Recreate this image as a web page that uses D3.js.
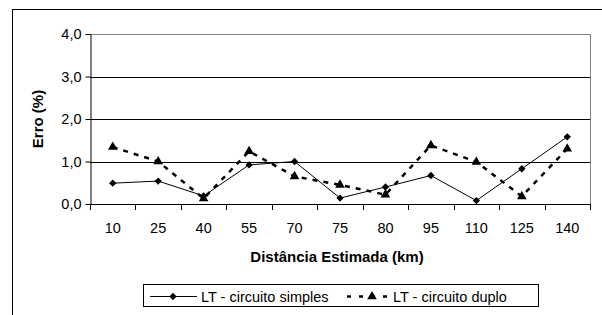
<!DOCTYPE html>
<html>
<head>
<meta charset="utf-8">
<script src="https://cdn.jsdelivr.net/npm/d3@7"></script>
<style>
  body { margin: 0; background: #fff; }
  svg { display: block; font-family: "Liberation Sans", Arial, sans-serif; }
</style>
</head>
<body>
<div id="chart"></div>
<script>
// dados
const distancias = ["10", "25", "40", "55", "70", "75", "80", "95", "110", "125", "140"];
const simples = [0.49, 0.54, 0.19, 0.92, 1.0, 0.14, 0.40, 0.67, 0.08, 0.83, 1.58];
const duplo = [1.34, 1.0, 0.13, 1.24, 0.65, 0.45, 0.22, 1.38, 0.99, 0.18, 1.30];
const yTicks = [0, 1, 2, 3, 4];

const W = 602, H = 315;
const plot = { left: 90, right: 590, top: 34, bottom: 204 };

const svg = d3.select("#chart").append("svg")
    .attr("width", W)
    .attr("height", H);

// moldura externa
svg.append("rect")
    .attr("x", 12.5).attr("y", 9.5)
    .attr("width", 620).attr("height", 330)
    .attr("fill", "none").attr("stroke", "#000");

const x = d3.scaleBand().domain(distancias).range([plot.left, plot.right]);
const y = d3.scaleLinear().domain([0, 4]).range([plot.bottom, plot.top]);

// linhas de grade
svg.append("g").selectAll("line")
    .data(yTicks.filter(t => t > 0 && t < 4))
    .enter().append("line")
    .attr("x1", plot.left).attr("x2", plot.right)
    .attr("y1", d => Math.round(y(d)) + 0.5)
    .attr("y2", d => Math.round(y(d)) + 0.5)
    .attr("stroke", "#000");

// borda superior e direita (cinza)
svg.append("path")
    .attr("d", `M${plot.left},${plot.top + 0.5}H${plot.right + 0.5}V${plot.bottom}`)
    .attr("fill", "none").attr("stroke", "#808080");

// eixo Y
const yAxis = d3.axisLeft(y).tickValues(yTicks).tickSize(5).tickSizeOuter(0)
    .tickFormat(d => d3.format(".1f")(d).replace(".", ","));
const gy = svg.append("g").attr("transform", `translate(${plot.left + 0.5},0)`).call(yAxis);
gy.selectAll("text").attr("font-size", 14.5).attr("fill", "#000").attr("x", -9)
    .style("font-family", "Liberation Sans, Arial, sans-serif");
gy.selectAll("line, path").attr("stroke", "#000");

// eixo X (marcas nas divisões entre categorias)
svg.append("line")
    .attr("x1", plot.left).attr("x2", plot.right)
    .attr("y1", plot.bottom + 0.5).attr("y2", plot.bottom + 0.5)
    .attr("stroke", "#000");
const bounds = distancias.map(d => x(d)).concat([plot.right]);
svg.append("g").selectAll("line")
    .data(bounds)
    .enter().append("line")
    .attr("x1", d => Math.round(d) + 0.5).attr("x2", d => Math.round(d) + 0.5)
    .attr("y1", plot.bottom).attr("y2", plot.bottom + 6)
    .attr("stroke", "#000");
svg.append("g").selectAll("text")
    .data(distancias)
    .enter().append("text")
    .attr("x", d => x(d) + x.bandwidth() / 2)
    .attr("y", 232.5)
    .attr("text-anchor", "middle")
    .attr("font-size", 14.5)
    .text(d => d);

// títulos dos eixos
svg.append("text")
    .attr("x", 337).attr("y", 262)
    .attr("text-anchor", "middle")
    .attr("font-size", 15).attr("font-weight", "bold")
    .text("Distância Estimada (km)");
svg.append("text")
    .attr("transform", "translate(43,119) rotate(-90)")
    .attr("text-anchor", "middle")
    .attr("font-size", 15).attr("font-weight", "bold")
    .text("Erro (%)");

const cx = d => x(d) + x.bandwidth() / 2;
const line = d3.line().x(d => cx(d.k)).y(d => y(d.v));
const dataS = distancias.map((k, i) => ({ k, v: simples[i] }));
const dataD = distancias.map((k, i) => ({ k, v: duplo[i] }));

const diamond = d3.symbol().type(d3.symbolDiamond2).size(34);
const triangle = d3.symbol().type(d3.symbolTriangle).size(40);

// série circuito duplo (tracejada)
svg.append("path").datum(dataD)
    .attr("d", line)
    .attr("fill", "none").attr("stroke", "#000")
    .attr("stroke-width", 2.5).attr("stroke-dasharray", "5,6");
svg.append("g").selectAll("path")
    .data(dataD)
    .enter().append("path")
    .attr("d", triangle)
    .attr("transform", d => `translate(${cx(d.k)},${y(d.v)})`)
    .attr("fill", "#000");

// série circuito simples
svg.append("path").datum(dataS)
    .attr("d", line)
    .attr("fill", "none").attr("stroke", "#000").attr("stroke-width", 1);
svg.append("g").selectAll("path")
    .data(dataS)
    .enter().append("path")
    .attr("d", diamond)
    .attr("transform", d => `translate(${cx(d.k)},${y(d.v)})`)
    .attr("fill", "#000");

// legenda
const leg = svg.append("g");
leg.append("rect")
    .attr("x", 143.5).attr("y", 284.5)
    .attr("width", 395).attr("height", 22)
    .attr("fill", "#fff").attr("stroke", "#000");
leg.append("line")
    .attr("x1", 150).attr("x2", 197).attr("y1", 296.5).attr("y2", 296.5)
    .attr("stroke", "#000");
leg.append("path").attr("d", diamond).attr("transform", "translate(173,296.5)");
leg.append("text").attr("x", 201).attr("y", 301.5).attr("font-size", 14.5)
    .text("LT - circuito simples");
leg.append("line")
    .attr("x1", 347).attr("x2", 390).attr("y1", 296.5).attr("y2", 296.5)
    .attr("stroke", "#000").attr("stroke-width", 2.5).attr("stroke-dasharray", "4,8");
leg.append("path").attr("d", triangle).attr("transform", "translate(372,296.5)");
leg.append("text").attr("x", 393).attr("y", 301.5).attr("font-size", 14.5)
    .text("LT - circuito duplo");
</script>
</body>
</html>
